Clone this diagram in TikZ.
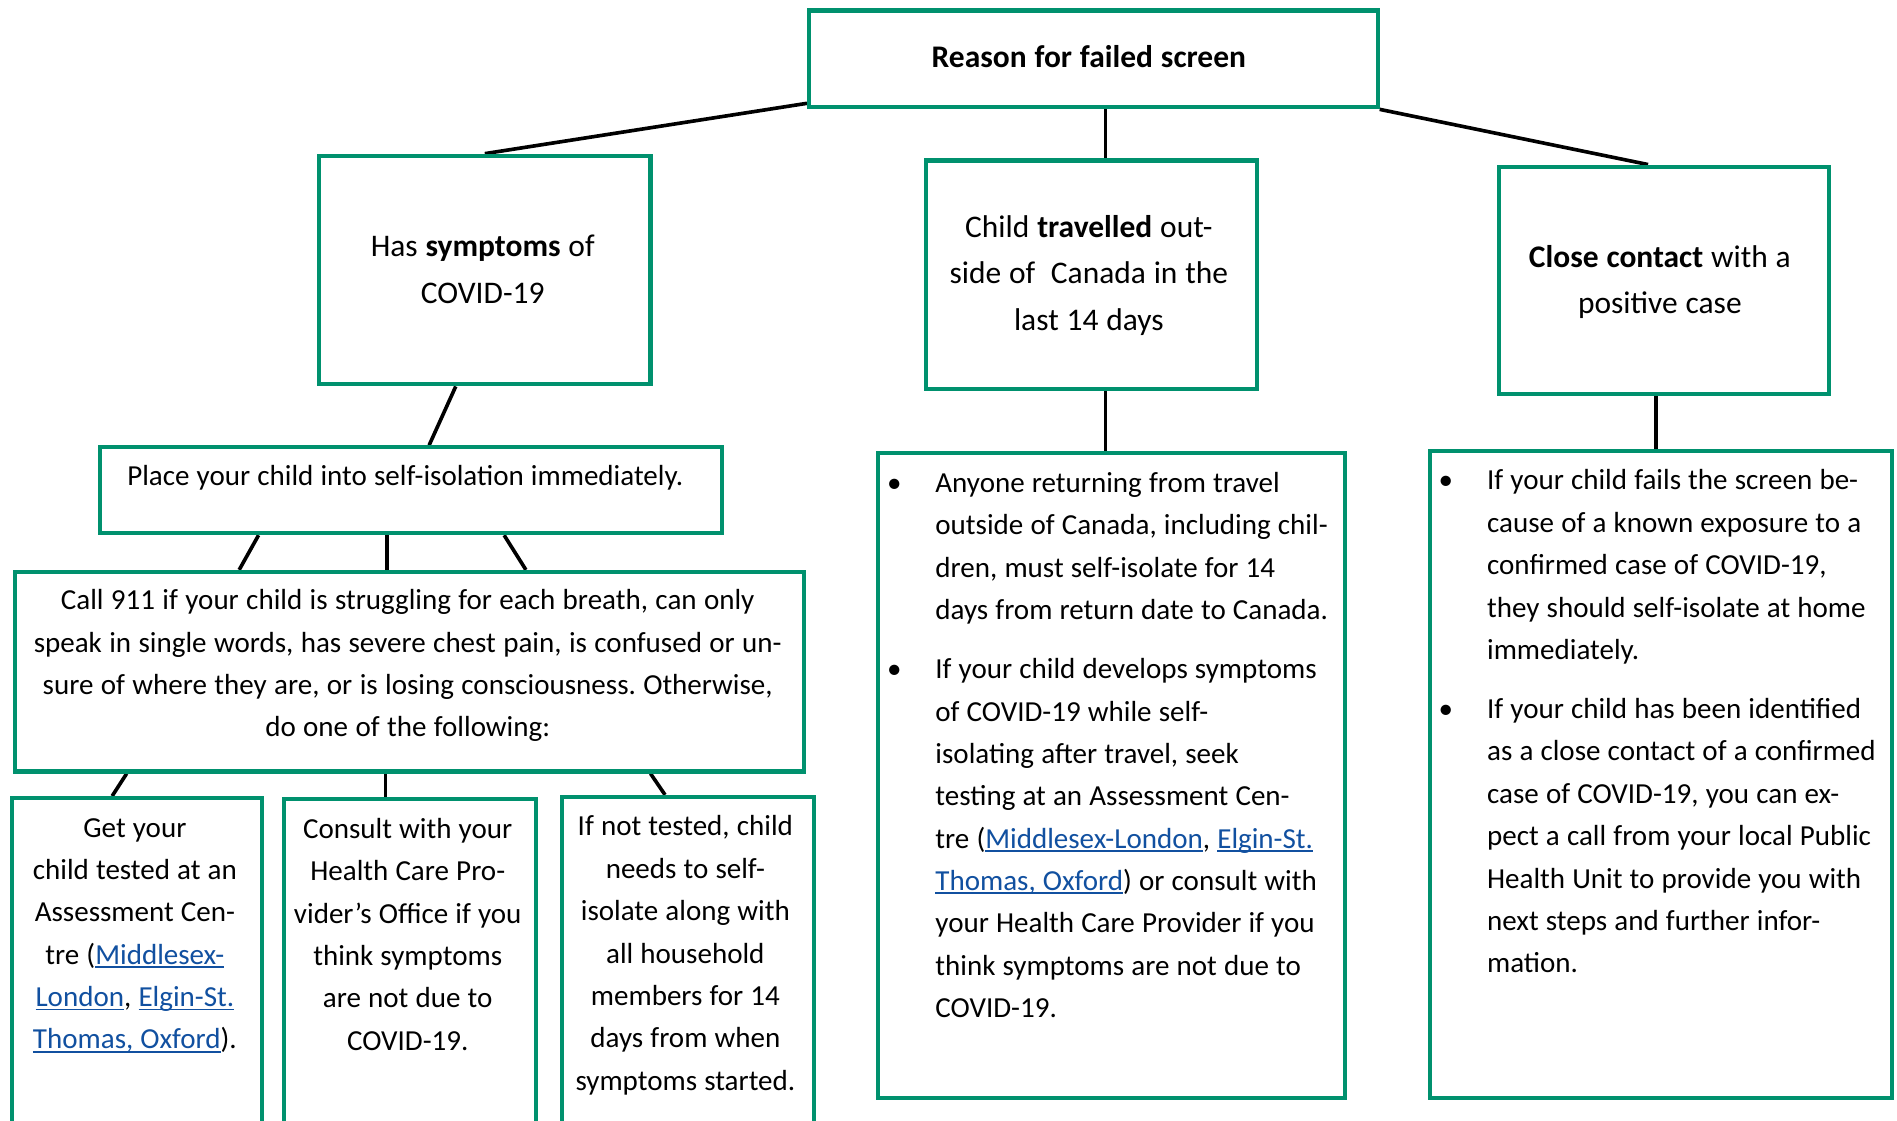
\documentclass[tikz,border=0pt]{standalone}
\usepackage{fontspec}
\setmainfont{Carlito}
\usetikzlibrary{calc,backgrounds}
\definecolor{grn}{RGB}{0,145,110}
\definecolor{linkblue}{RGB}{17,80,160}
\newcommand\lnk[1]{\leavevmode{\color{linkblue}\setbox0\hbox{#1}\rlap{\rule[-3pt]{\wd0}{1.3pt}}\box0}}
\newcommand\bul{\leavevmode\llap{\hbox to 40pt{\textbullet\hss}}}
\newcommand\bigsp{\spaceskip=6.5pt\relax}
\newcommand\smsp{\spaceskip=5.9pt\relax}
\newcommand\callsp{\spaceskip=6.1pt\relax}
\frenchspacing
\begin{document}
\begin{tikzpicture}[x=1pt,y=-1pt,
  box/.style={draw=grn, line width=3.4pt, fill=white, anchor=north west, inner sep=0pt},
  conn/.style={draw=black, line width=3pt},
  bigtxt/.style={font=\fontsize{26}{38.5}\selectfont, execute at begin node=\bigsp, inner sep=0pt, anchor=base, align=center, text width=#1},
  ctxt/.style={font=\fontsize{24}{35}\selectfont, execute at begin node=\smsp, inner sep=0pt, anchor=base, align=center, text width=#1},
  ltxt/.style={font=\fontsize{24}{35}\selectfont, execute at begin node=\smsp, inner sep=0pt, anchor=base west, align=left, text width=#1}]
\useasboundingbox (0,0) rectangle (1568,926);
\clip (0,0) rectangle (1568,926);
% boxes
\node[box, minimum width=470pt, minimum height=80pt]  (top)   at (667,7) {};
\node[box, minimum width=274pt, minimum height=189pt] (sym)   at (262,127) {};
\node[box, minimum width=273pt, minimum height=189pt] (trav)  at (764,131) {};
\node[box, minimum width=273pt, minimum height=188pt] (close) at (1237,136) {};
\node[box, minimum width=514pt, minimum height=71pt]  (place) at (81,368) {};
\node[box, minimum width=652pt, minimum height=165pt] (call)  at (11,471) {};
\node[box, minimum width=207pt, minimum height=290pt] (get)   at (8,658) {};
\node[box, minimum width=208pt, minimum height=290pt] (cons)  at (233,659) {};
\node[box, minimum width=208pt, minimum height=290pt] (nott)  at (463,657) {};
\node[box, minimum width=386pt, minimum height=533pt] (mid)   at (724,373) {};
\node[box, minimum width=382pt, minimum height=535pt] (rgt)   at (1180,371) {};
% texts
\node[bigtxt=460pt] (ttop) at (900,56) {\textbf{Reason for failed screen}};
\node[bigtxt=270pt] (tsym) at (399,212) {Has \textbf{symptoms} of\\COVID-19};
\node[bigtxt=270pt] (ttrav) at (900,196) {Child \textbf{travelled} out-\\side of \ Canada in the\\last 14 days};
\node[bigtxt=270pt] (tclose) at (1372,221) {\textbf{Close contact} with a\\positive case};
\node[ctxt=510pt] (tplace) at (335,401) {Place your child into self-isolation immediately.};
\node[ctxt=700pt, execute at begin node=\callsp] (tcall) at (337,504) {Call 911 if your child is struggling for each breath, can only\\speak in single words, has severe chest pain, is confused or un-\\sure of where they are, or is losing consciousness. Otherwise,\\do one of the following:};
\node[ctxt=260pt] (tget) at (111.5,692) {Get your\\child tested at an\\Assessment Cen-\\tre (\lnk{Middlesex-}\\\lnk{London}, \lnk{Elgin-St.}\\\lnk{Thomas, Oxford}).};
\node[ctxt=260pt] (tcons) at (337,693) {Consult with your\\Health Care Pro-\\vider’s Office if you\\think symptoms\\are not due to\\COVID-19.};
\node[ctxt=260pt] (tnott) at (566.5,691) {If not tested, child\\needs to self-\\isolate along with\\all household\\members for 14\\days from when\\symptoms started.};
\node[ltxt=420pt] (tmid) at (773,407) {\bul Anyone returning from travel\\outside of Canada, including chil-\\dren, must self-isolate for 14\\days from return date to Canada.\\[14pt]\bul If your child develops symptoms\\of COVID-19 while self-\\isolating after travel, seek\\testing at an Assessment Cen-\\tre (\lnk{Middlesex-London}, \lnk{Elgin-St.}\\\lnk{Thomas, Oxford}) or consult with\\your Health Care Provider if you\\think symptoms are not due to\\COVID-19.};
\node[ltxt=420pt] (trgt) at (1229,405) {\bul If your child fails the screen be-\\cause of a known exposure to a\\confirmed case of COVID-19,\\they should self-isolate at home\\immediately.\\[14pt]\bul If your child has been identified\\as a close contact of a confirmed\\case of COVID-19, you can ex-\\pect a call from your local Public\\Health Unit to provide you with\\next steps and further infor-\\mation.};
% connectors
\begin{pgfonlayer}{background}
\draw[conn] ($(top.south west)+(0,-5)$) -- (sym.north);
\draw[conn] ($(top.south)+(10,0)$) -- ($(trav.north)+(11.5,0)$);
\draw[conn] (top.south east) -- ($(close.north)+(-13,0)$);
\draw[conn] ($(sym.south)+(-24,0)$) -- ($(place.north)+(15,0)$);
\draw[conn] ($(trav.south)+(11.5,0)$) -- ($(mid.north)+(-5,0)$);
\draw[conn] ($(close.south)+(-6.5,0)$) -- ($(rgt.north)+(-4,0)$);
\draw[conn] ($(place.south)+(-126,0)$) -- ($(call.north)+(-141,0)$);
\draw[conn] ($(place.south)+(-20,0)$) -- ($(call.north)+(-19,0)$);
\draw[conn] ($(place.south)+(77,0)$) -- ($(call.north)+(96,0)$);
\draw[conn] ($(call.south)+(-234,0)$) -- ($(get.north)+(-20.5,0)$);
\draw[conn] ($(call.south)+(-20,0)$) -- ($(cons.north)+(-20,0)$);
\draw[conn] ($(call.south)+(199,0)$) -- ($(nott.north)+(-19,0)$);
\end{pgfonlayer}
\end{tikzpicture}
\end{document}
